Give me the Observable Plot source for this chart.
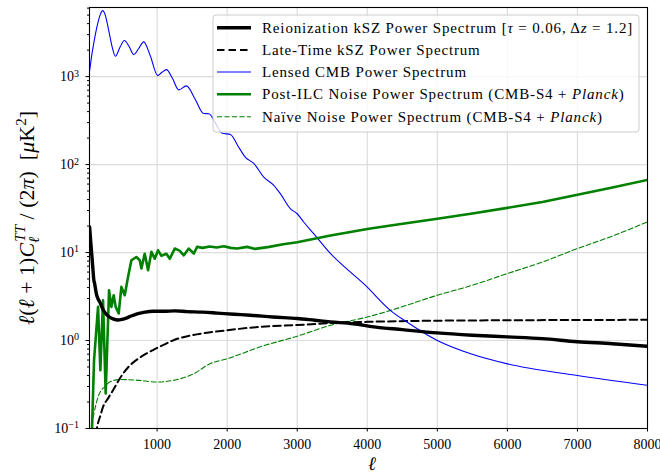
<!DOCTYPE html>
<html><head><meta charset="utf-8">
<script src="https://cdn.jsdelivr.net/npm/d3@7"></script>
<script src="https://cdn.jsdelivr.net/npm/@observablehq/plot@0.6"></script>
<style>body{margin:0;background:#fff}</style>
</head><body><div id="chart"></div>
<script>
// ---- data ----
const cmbL = [37, 60, 95, 152, 190, 223, 260, 309, 360, 404, 470, 533, 600, 666, 740, 809, 900, 1009, 1070, 1133, 1220, 1309, 1419, 1540, 1666, 1740, 1830, 1930, 2047, 2150, 2261, 2380, 2523, 2666, 2761, 2904, 3000, 3095, 3238, 3476, 3700, 3952, 4333, 4571, 5000, 5476, 6000, 7000, 8000];
const cmbV = [1170, 1600, 2370, 4000, 5100, 5620, 5000, 3360, 2150, 1700, 2150, 2570, 2200, 1780, 2100, 2480, 1750, 1026, 1120, 1200, 950, 707, 784, 560, 380, 378, 300, 227, 220, 165, 121, 103, 72, 58, 46.4, 31.4, 27.6, 22.1, 16.3, 9.7, 6.6, 4.4, 2.19, 1.61, 1.0, 0.706, 0.543, 0.40, 0.31];

const kszReionL = [37, 45, 55, 65, 75, 85, 95, 109, 133, 155, 180, 228, 260, 300, 371, 443, 500, 561, 630, 704, 800, 943, 1100, 1252, 1429, 1650, 1857, 2100, 2333, 2650, 3000, 3250, 3476, 3800, 4095, 4500, 5000, 5500, 6000, 6500, 7000, 7500, 8000];
const kszReionV = [19.5, 16, 12.5, 10, 8, 6.3, 5.0, 4.4, 3.4, 3.0, 2.75, 2.25, 2.05, 1.9, 1.76, 1.71, 1.74, 1.8, 1.9, 2.0, 2.08, 2.15, 2.15, 2.17, 2.13, 2.1, 2.05, 1.99, 1.94, 1.85, 1.78, 1.7, 1.63, 1.55, 1.43, 1.33, 1.22, 1.15, 1.1, 1.05, 0.97, 0.92, 0.86];

const kszLateL = [120, 150, 190, 228, 300, 371, 440, 514, 600, 704, 820, 943, 1100, 1250, 1500, 1762, 2000, 2476, 3000, 3476, 4000, 5000, 6000, 7000, 8000];
const kszLateV = [0.085, 0.11, 0.14, 0.176, 0.22, 0.272, 0.34, 0.42, 0.51, 0.6, 0.69, 0.78, 0.9, 1.02, 1.15, 1.24, 1.31, 1.43, 1.5, 1.58, 1.63, 1.68, 1.7, 1.71, 1.72];

const ilcL = [60, 100, 157, 190, 228, 266, 314, 347, 380, 409, 452, 490, 538, 585, 633, 704, 752, 776, 823, 871, 919, 966, 1014, 1061, 1133, 1181, 1252, 1320, 1381, 1452, 1524, 1571, 1650, 1750, 1850, 1950, 2050, 2143, 2286, 2400, 2600, 2800, 3000, 3476, 4000, 4333, 5000, 5500, 6000, 6500, 7000, 7500, 8000];
const ilcV = [0.05, 0.6, 2.41, 0.46, 2.87, 0.25, 3.73, 2.41, 3.27, 2.41, 2.03, 4.07, 3.27, 5.28, 8.17, 8.9, 8.17, 6.58, 9.7, 6.3, 10.2, 8.5, 10.6, 9.2, 9.7, 8.5, 11.1, 10.5, 9.3, 11.1, 9.75, 11.6, 11.3, 11.7, 11.4, 11.8, 11.3, 11.1, 11.6, 11.0, 11.6, 12.4, 13.1, 15.6, 18.5, 20.3, 24.2, 27.8, 32.2, 37.6, 45.3, 54.8, 67];

const naiveL = [45, 61, 100, 157, 200, 252, 324, 467, 704, 990, 1252, 1524, 1762, 2000, 2476, 3000, 3476, 4000, 4333, 5000, 5500, 6000, 6500, 7000, 7500, 8000];
const naiveV = [0.05, 0.1, 0.15, 0.228, 0.27, 0.297, 0.338, 0.36, 0.355, 0.338, 0.355, 0.42, 0.548, 0.62, 0.85, 1.12, 1.49, 1.85, 2.2, 3.27, 4.25, 5.77, 7.8, 11.1, 15.4, 22.3];

const xTicks = [1000, 2000, 3000, 4000, 5000, 6000, 7000, 8000];
const yDecades = [0.1, 1, 10, 100, 1000];
const yMinor = [0.2,0.3,0.4,0.5,0.6,0.7,0.8,0.9, 2,3,4,5,6,7,8,9, 20,30,40,50,60,70,80,90, 200,300,400,500,600,700,800,900, 2000,3000,4000,5000,6000];

const legendEntries = [
  [["Reionization kSZ Power Spectrum [", 0], ["τ", 1], [" = 0.06, Δ", 0], ["z", 1], [" = 1.2]", 0]],
  [["Late-Time kSZ Power Spectrum", 0]],
  [["Lensed CMB Power Spectrum", 0]],
  [["Post-ILC Noise Power Spectrum (CMB-S4 + ", 0], ["Planck", 1], [")", 0]],
  [["Naïve Noise Power Spectrum (CMB-S4 + ", 0], ["Planck", 1], [")", 0]]
];

const toRows = (L, V) => L.map((l, i) => ({l, v: V[i]}));

// styles
const sty = [
  {stroke: "black", strokeWidth: 3.4},
  {stroke: "black", strokeWidth: 2, strokeDasharray: "7.5,4"},
  {stroke: "#0000ff", strokeWidth: 1.1},
  {stroke: "#008000", strokeWidth: 2.6},
  {stroke: "#008000", strokeWidth: 1.1, strokeDasharray: "5,2.5"}
];

const chart = Plot.plot({
  width: 660, height: 474,
  marginLeft: 89, marginRight: 13, marginTop: 7, marginBottom: 46,
  style: {fontFamily: "'Liberation Serif', serif", fontSize: "14px", color: "black", background: "white"},
  x: {domain: [35, 8000], label: null},
  y: {type: "log", domain: [0.1, 6100], label: null},
  marks: [
    Plot.gridX(xTicks, {stroke: "#dcdcdc", strokeOpacity: 1, strokeWidth: 1.2}),
    Plot.gridY(yDecades, {stroke: "#dcdcdc", strokeOpacity: 1, strokeWidth: 1.2}),
    Plot.line(toRows(naiveL, naiveV), {x: "l", y: "v", curve: "monotone-x", clip: true, ...sty[4]}),
    Plot.line(toRows(kszLateL, kszLateV), {x: "l", y: "v", curve: "monotone-x", clip: true, ...sty[1]}),
    Plot.line(toRows(cmbL, cmbV), {x: "l", y: "v", curve: "monotone-x", clip: true, ...sty[2]}),
    Plot.line(toRows(ilcL, ilcV), {x: "l", y: "v", curve: "linear", clip: true, strokeLinejoin: "round", ...sty[3]}),
    Plot.line(toRows(kszReionL, kszReionV), {x: "l", y: "v", curve: "monotone-x", clip: true, ...sty[0]}),
    Plot.frame({stroke: "black", strokeWidth: 1.1}),
    Plot.axisX({ticks: xTicks, tickSize: 3.5, tickPadding: 7.5, label: null, tickFormat: d => String(d)}),
    Plot.axisY({ticks: yDecades, tickSize: 3.5, tickPadding: 7, label: null, tickFormat: d => "10^" + Math.round(Math.log10(d))}),
    Plot.axisY({ticks: yMinor, tickSize: 2, label: null, tickFormat: () => ""})
  ]
});
document.getElementById("chart").appendChild(chart);

const svg = d3.select(chart);
// superscript exponents on y tick labels
svg.selectAll('g[aria-label="y-axis tick label"] text').each(function() {
  const t = d3.select(this);
  const s = t.text();
  if (!s.includes("^")) return;
  const [base, exp] = s.split("^");
  t.text("");
  t.append("tspan").text(base);
  t.append("tspan").attr("dy", "-0.45em").attr("font-size", "0.72em").text(exp.replace("-", "−"));
});

// y-axis label
const yl = svg.append("text")
  .attr("transform", "translate(34,218) rotate(-90)")
  .attr("text-anchor", "middle")
  .attr("font-family", "'Liberation Serif', serif")
  .attr("font-size", 22)
  .attr("fill", "black");
yl.append("tspan").attr("font-style", "italic").text("ℓ");
yl.append("tspan").text("(");
yl.append("tspan").attr("font-style", "italic").text("ℓ");
yl.append("tspan").text(" + 1)");
yl.append("tspan").attr("font-style", "italic").text("C");
yl.append("tspan").attr("font-style", "italic").attr("font-size", 15).attr("dy", 5).text("ℓ");
yl.append("tspan").attr("font-style", "italic").attr("font-size", 15).attr("dy", -14).attr("dx", -5).text("TT");
yl.append("tspan").attr("dy", 9).text(" / (2");
yl.append("tspan").attr("font-style", "italic").text("π");
yl.append("tspan").text(")  [");
yl.append("tspan").attr("font-style", "italic").text("μ");
yl.append("tspan").text("K");
yl.append("tspan").attr("font-size", 15).attr("dy", -8).text("2");
yl.append("tspan").attr("dy", 8).text("]");

// x-axis label
svg.append("text")
  .attr("x", 372).attr("y", 469.5)
  .attr("text-anchor", "middle")
  .attr("font-family", "'Liberation Serif', serif")
  .attr("font-size", 19).attr("font-style", "italic")
  .attr("fill", "black")
  .text("ℓ");

// legend
const lg = svg.append("g");
lg.append("rect").attr("x", 213).attr("y", 15).attr("width", 426).attr("height", 117)
  .attr("rx", 3).attr("fill", "white").attr("fill-opacity", 0.8)
  .attr("stroke", "#cccccc").attr("stroke-width", 1);
const rowY = [27.7, 50, 72, 94.3, 116.7];
legendEntries.forEach((segs, i) => {
  const y = rowY[i];
  const s = sty[i];
  lg.append("line").attr("x1", 217).attr("x2", 251).attr("y1", y).attr("y2", y)
    .attr("stroke", s.stroke).attr("stroke-width", s.strokeWidth)
    .attr("stroke-dasharray", s.strokeDasharray || null);
  const t = lg.append("text").attr("x", 262).attr("y", y + 5)
    .attr("text-anchor", "start")
    .attr("font-family", "'Liberation Serif', serif").attr("font-size", 15)
    .attr("letter-spacing", 0.85).attr("fill", "black");
  segs.forEach(([txt, it]) => t.append("tspan").attr("font-style", it ? "italic" : "normal").text(txt));
});
</script>
</body></html>
